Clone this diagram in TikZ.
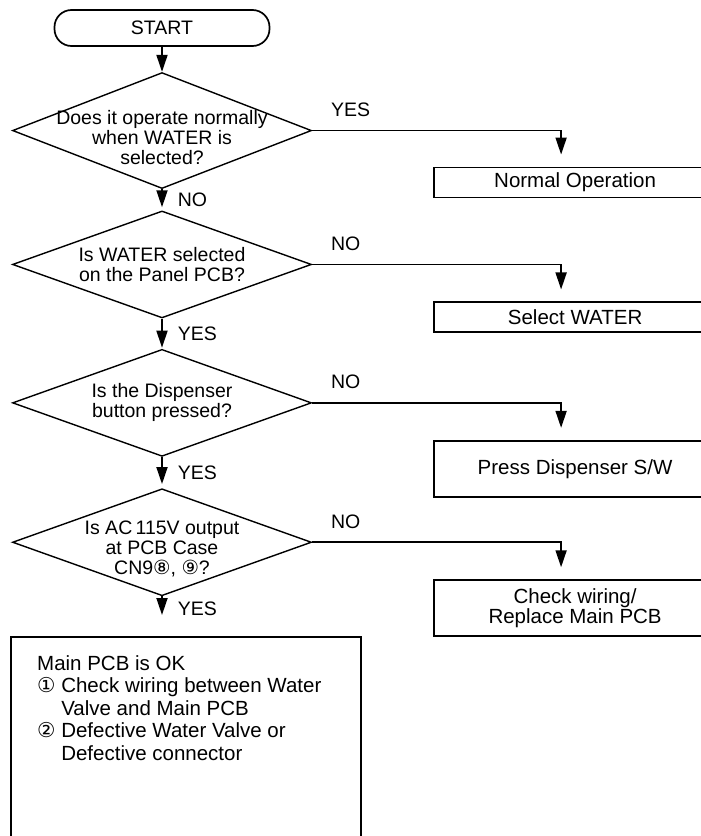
\documentclass[tikz,border=0pt]{standalone}
\usepackage{fontspec}
\setmainfont{Liberation Sans}
\newfontfamily\circfont{DejaVu Sans}
\usetikzlibrary{positioning, arrows.meta, shapes.geometric}

\begin{document}
\begin{tikzpicture}[
  x=1pt, y=-1pt,
  every node/.style={font=\fontsize{19.5pt}{20pt}\selectfont},
  term/.style={draw, line width=1.7pt, rounded corners=17pt, minimum width=215pt, minimum height=36pt},
  dec/.style={diamond, draw, line width=1.4pt, minimum width=299pt, minimum height=107pt, inner sep=0pt},
  dtext/.style={align=center, inner sep=0pt},
  act/.style={draw, line width=1.8pt, minimum width=282pt, align=center, font=\fontsize{20.5pt}{20pt}\selectfont},
  okbox/.style={draw, line width=1.8pt, minimum width=350pt, minimum height=215pt},
  oktext/.style={align=left, inner sep=0pt, font=\fontsize{20.5pt}{22.5pt}\selectfont},
  lbl/.style={inner sep=0pt},
  arrow/.style={-{Triangle[length=17pt, width=11pt]}, line width=1.8pt}
]
  \useasboundingbox (0,0) rectangle (701,836);

  % main column
  \node[term] (start) at (162,28) {START};
  \node[dec, minimum height=116pt, below=25pt of start,
        label={[dtext, yshift=-7pt]center:Does it operate normally\\when WATER is\\selected?}] (water) {};
  \node[dec, below=21pt of water,
        label={[dtext]center:Is WATER selected\\on the Panel PCB?}] (panel) {};
  \node[dec, below=30pt of panel,
        label={[dtext]center:Is the Dispenser\\button pressed?}] (disp) {};
  \node[dec, below=31pt of disp,
        label={[dtext, yshift=-7pt]center:Is AC\,115V output\\at PCB Case\\CN9{\circfont ⑧}, {\circfont ⑨}?}] (volt) {};
  \node[okbox, anchor=north west] (ok) at (10,636) {};
  \node[oktext, below right=19pt and 27pt of ok.north west] (okinfo) {Main PCB is OK\\
    {\circfont ①} Check wiring between Water\\
    \phantom{\circfont ①} Valve and Main PCB\\
    {\circfont ②} Defective Water Valve or\\
    \phantom{\circfont ②} Defective connector};

  % actions on the right
  \node[act, minimum height=30pt, below right=36pt and 121pt of water.east] (normal) {Normal Operation};
  \node[act, minimum height=30pt, below right=37pt and 121pt of panel.east] (select) {Select WATER};
  \node[act, minimum height=56pt, below right=37pt and 121pt of disp.east] (press) {Press Dispenser S/W};
  \node[act, minimum height=56pt, below right=37pt and 121pt of volt.east] (wiring) {Check wiring/\\Replace Main PCB};

  \draw[arrow] (start) -- (water);
  \draw[arrow, shorten >=3pt] (water.south) -- node[lbl, right=15pt] {NO} (panel.north);
  \draw[arrow, shorten >=1pt] (panel.south) -- node[lbl, right=15pt] {YES} (disp.north);
  \draw[arrow, shorten >=4pt] (disp.south) -- node[lbl, right=15pt] {YES} (volt.north);
  \draw[arrow, shorten >=21pt] (volt.south) -- node[lbl, right=15pt, pos=0.3] {YES} (volt.south |- ok.north);

  \draw[arrow, shorten >=12pt] (water.east) node[lbl, above right=13pt and 18pt] {YES} -| ([xshift=-14pt]normal.north);
  \draw[arrow, shorten >=12pt] (panel.east) node[lbl, above right=13pt and 18pt] {NO} -| ([xshift=-14pt]select.north);
  \draw[arrow, shorten >=12pt] (disp.east) node[lbl, above right=13pt and 18pt] {NO} -| ([xshift=-14pt]press.north);
  \draw[arrow, shorten >=12pt] (volt.east) node[lbl, above right=13pt and 18pt] {NO} -| ([xshift=-14pt]wiring.north);
\end{tikzpicture}
\end{document}
